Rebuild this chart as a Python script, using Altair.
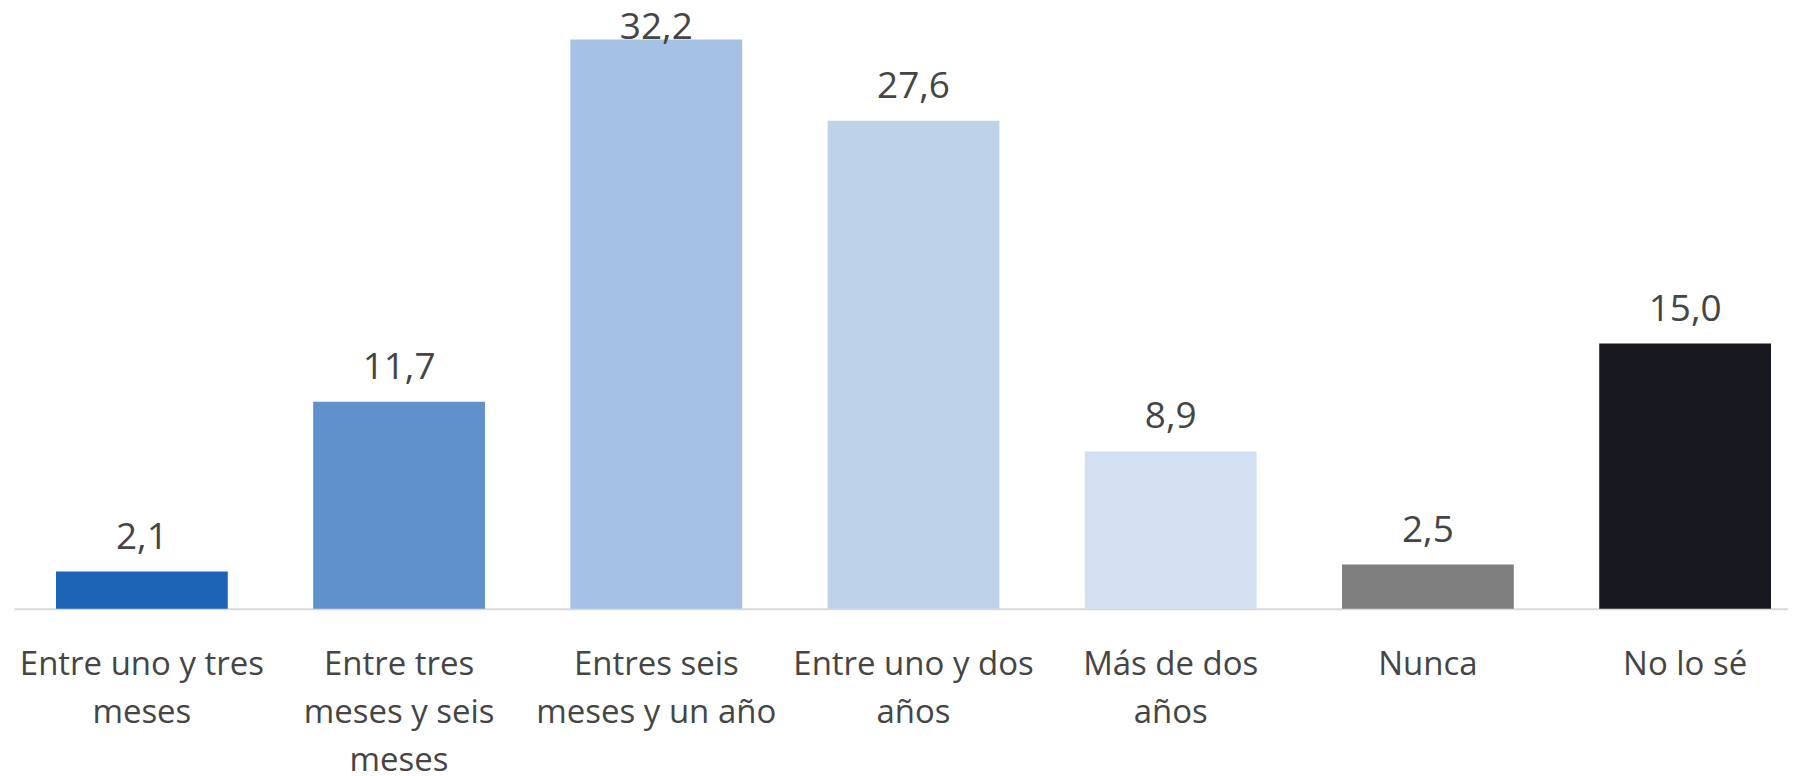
import altair as alt
import pandas as pd

categories = [
    "Entre uno y tres\nmeses",
    "Entre tres\nmeses y seis\nmeses",
    "Entres seis\nmeses y un año",
    "Entre uno y dos\naños",
    "Más de dos\naños",
    "Nunca",
    "No lo sé",
]
values = [2.1, 11.7, 32.2, 27.6, 8.9, 2.5, 15.0]
labels = ["2,1", "11,7", "32,2", "27,6", "8,9", "2,5", "15,0"]
colors = ["#1b64b6", "#6091cb", "#a5c1e4", "#bed2ea", "#d3e0f1", "#7f7f7f", "#181820"]

df = pd.DataFrame({"cat": categories, "v": values, "lab": labels})

FONT = "Open Sans"
TEXT = "#454545"

x = alt.X(
    "cat:N",
    sort=categories,
    title=None,
    scale=alt.Scale(paddingInner=0.332, paddingOuter=0.1146, align=0.712),
    axis=alt.Axis(
        labelAngle=0,
        labelExpr="split(datum.label, '\\n')",
        labelFont=FONT,
        labelFontSize=33,
        labelColor=TEXT,
        labelLineHeight=48,
        labelPadding=40,
        ticks=False,
        domainColor="#d9d9d9",
        domainWidth=2,
        grid=False,
        labelLimit=400,
    ),
)
y_scale = alt.Scale(domain=[0, 33.95], nice=False)

bars = alt.Chart(df).mark_bar().encode(
    x=x,
    y=alt.Y("v:Q", scale=y_scale, axis=None),
    color=alt.Color("cat:N", sort=categories,
                    scale=alt.Scale(domain=categories, range=colors), legend=None),
)

text = alt.Chart(df).transform_calculate(
    ly="min(datum.v, 30.9)"
).mark_text(
    font=FONT, fontSize=37, color=TEXT, baseline="alphabetic", dy=-23
).encode(
    x=alt.X("cat:N", sort=categories),
    y=alt.Y("ly:Q", scale=y_scale),
    text="lab:N",
)

chart = (bars + text).properties(
    width=1776, height=601, padding={"left": 6, "top": 0, "right": 0, "bottom": 0}
).configure_view(stroke=None)

chart.save("out.html", embed_options={"renderer": "svg", "actions": False})
